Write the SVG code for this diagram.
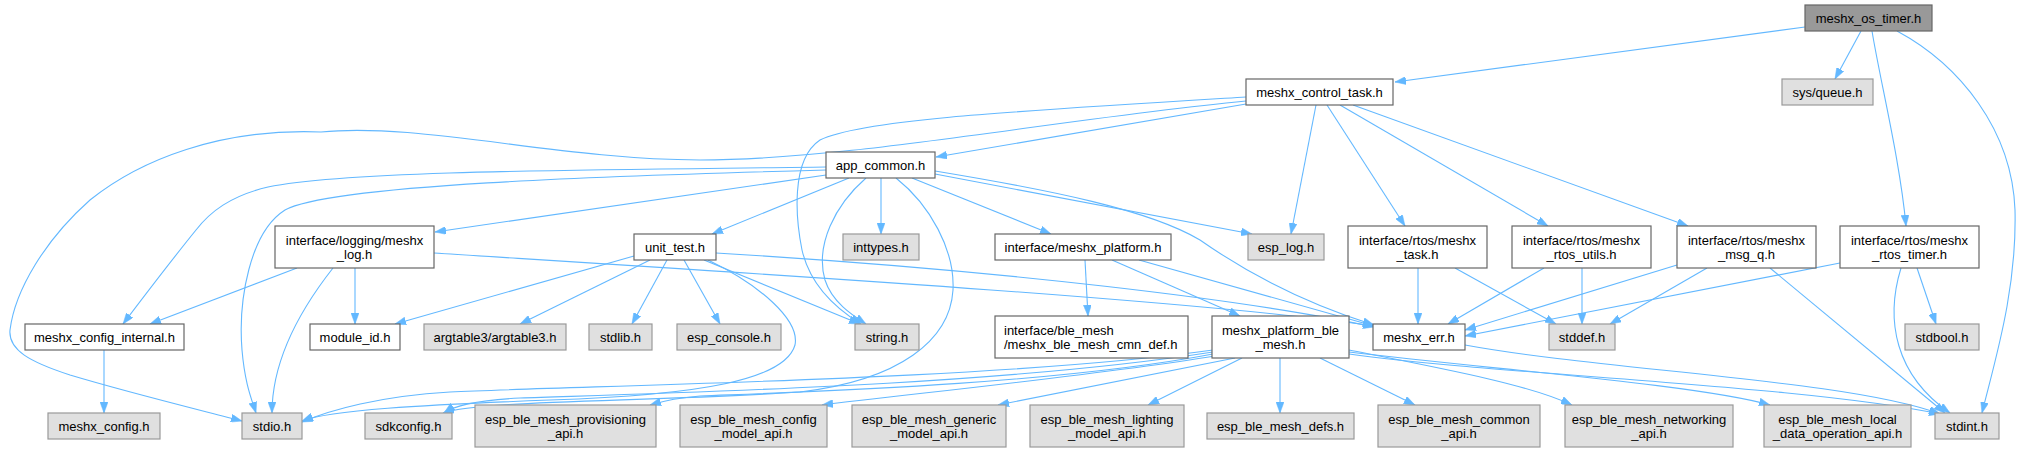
<svg xmlns="http://www.w3.org/2000/svg" width="2022" height="450" viewBox="0 0 2022 450">
<defs>
<marker id="a" markerWidth="11" markerHeight="8" refX="11" refY="4" orient="auto" markerUnits="userSpaceOnUse"><path d="M0,0 L11,4 L0,8 z" fill="#63b8ff" stroke="#63b8ff" stroke-width="0.5"/></marker>
<style>
.e path{fill:none;stroke:#63b8ff;stroke-width:1.1;marker-end:url(#a)}
.n rect{fill:#ffffff;stroke:#666666;stroke-width:1.2}
.g rect{fill:#e0e0e0;stroke:#999999;stroke-width:1.2}
.r rect{fill:#999999;stroke:#666666;stroke-width:1.2}
text{font-family:"Liberation Sans",Arial,Helvetica,sans-serif;font-size:13px;fill:#000000;text-anchor:middle}
text.l{text-anchor:start}
</style>
</defs>
<rect width="2022" height="450" fill="#ffffff"/>
<g class="e" id="edges">
<path d="M1805,27 L1395,82"/>
<path d="M1861,31 L1835,79"/>
<path d="M1872,31 C1880,80 1900,160 1906,226"/>
<path d="M1897,31 C1960,65 2012,130 2015,210 C2017,290 1995,360 1982,413"/>
<path d="M1246,101 C1050,120 850,160 700,160 C560,160 420,122 321,132 C220,128 140,160 90,200 C45,240 15,290 10,330 C8,350 30,362 70,375 C130,393 200,410 242,421"/>
<path d="M1246,97 C1000,112 860,120 820,140 C790,160 796,220 802,250 C810,285 835,308 861,324"/>
<path d="M1246,104 L936,157"/>
<path d="M1316,105 L1291,234"/>
<path d="M1327,105 L1405,226"/>
<path d="M1340,105 L1548,226"/>
<path d="M1353,105 L1688,226"/>
<path d="M826,167 C600,170 350,170 268,187 C230,196 210,212 196,230 C170,262 145,295 123,324"/>
<path d="M826,170 C600,176 330,185 285,210 C250,232 238,300 242,350 C245,385 252,400 256,413"/>
<path d="M826,175 L435,232"/>
<path d="M849,178 L712,234"/>
<path d="M866,178 C835,205 815,245 825,280 C832,302 852,315 866,324"/>
<path d="M881,178 L881,234"/>
<path d="M896,178 C930,205 955,250 953,290 C950,340 900,380 800,392 C650,402 480,400 443,413"/>
<path d="M912,178 L1051,234"/>
<path d="M935,174 L1252,234"/>
<path d="M935,171 C1050,190 1150,210 1200,240 C1250,275 1310,305 1374,325"/>
<path d="M297,268 L150,324"/>
<path d="M333,268 C300,310 272,360 272,413"/>
<path d="M355,268 L355,324"/>
<path d="M434,253 C700,270 1200,300 1374,326"/>
<path d="M634,256 L395,324"/>
<path d="M650,260 L520,324"/>
<path d="M667,260 L632,324"/>
<path d="M684,260 L720,324"/>
<path d="M704,260 L860,324"/>
<path d="M716,253 C1000,270 1250,300 1374,327"/>
<path d="M708,260 C760,285 800,320 795,345 C785,380 700,395 550,400 C420,405 330,410 302,421"/>
<path d="M1085,260 L1088,316"/>
<path d="M1112,260 L1240,316"/>
<path d="M1139,260 L1374,326"/>
<path d="M1418,268 L1418,324"/>
<path d="M1455,268 L1556,324"/>
<path d="M1544,268 L1448,324"/>
<path d="M1582,268 L1582,324"/>
<path d="M1677,265 L1465,330"/>
<path d="M1707,268 L1610,324"/>
<path d="M1770,268 L1945,413"/>
<path d="M1840,263 L1465,336"/>
<path d="M1917,268 L1936,324"/>
<path d="M1901,268 C1885,320 1895,375 1950,413"/>
<path d="M104,350 L104,413"/>
<path d="M1213,350 C1000,380 600,385 450,392 C380,396 330,410 302,422"/>
<path d="M1213,352 C1000,385 700,392 520,398 C480,400 455,405 444,413"/>
<path d="M1213,354 C1050,385 800,392 700,396 C675,398 660,402 650,405"/>
<path d="M1215,356 C1100,375 900,395 822,405"/>
<path d="M1235,358 L998,405"/>
<path d="M1242,358 L1148,405"/>
<path d="M1280,358 L1280,413"/>
<path d="M1320,358 L1415,405"/>
<path d="M1349,350 C1450,370 1530,385 1572,405"/>
<path d="M1349,352 C1500,370 1700,385 1770,405"/>
<path d="M1349,354 C1500,375 1800,385 1940,414"/>
<path d="M1465,345 C1600,370 1850,380 1940,414"/>
</g>
<g id="meshx_os_timer" class="r"><rect x="1805" y="5" width="127" height="26"/><text x="1868.5" y="23">meshx_os_timer.h</text></g>
<g id="meshx_control_task" class="n"><rect x="1246" y="79" width="147" height="26"/><text x="1319.5" y="97">meshx_control_task.h</text></g>
<g id="sys_queue" class="g"><rect x="1782" y="79" width="91" height="26"/><text x="1827.5" y="97">sys/queue.h</text></g>
<g id="app_common" class="n"><rect x="826" y="152" width="109" height="26"/><text x="880.5" y="170">app_common.h</text></g>
<g id="meshx_log" class="n"><rect x="275" y="226" width="159" height="42"/><text x="354.5" y="244.5">interface/logging/meshx</text><text x="354.5" y="259">_log.h</text></g>
<g id="unit_test" class="n"><rect x="634" y="234" width="82" height="26"/><text x="675" y="252">unit_test.h</text></g>
<g id="inttypes" class="g"><rect x="843" y="234" width="76" height="26"/><text x="881" y="252">inttypes.h</text></g>
<g id="meshx_platform" class="n"><rect x="995" y="234" width="176" height="26"/><text x="1083" y="252">interface/meshx_platform.h</text></g>
<g id="esp_log" class="g"><rect x="1248" y="234" width="76" height="26"/><text x="1286" y="252">esp_log.h</text></g>
<g id="meshx_task" class="n"><rect x="1348" y="226" width="139" height="42"/><text x="1417.5" y="244.5">interface/rtos/meshx</text><text x="1417.5" y="259">_task.h</text></g>
<g id="meshx_rtos_utils" class="n"><rect x="1512" y="226" width="139" height="42"/><text x="1581.5" y="244.5">interface/rtos/meshx</text><text x="1581.5" y="259">_rtos_utils.h</text></g>
<g id="meshx_msg_q" class="n"><rect x="1677" y="226" width="139" height="42"/><text x="1746.5" y="244.5">interface/rtos/meshx</text><text x="1746.5" y="259">_msg_q.h</text></g>
<g id="meshx_rtos_timer" class="n"><rect x="1840" y="226" width="139" height="42"/><text x="1909.5" y="244.5">interface/rtos/meshx</text><text x="1909.5" y="259">_rtos_timer.h</text></g>
<g id="meshx_config_internal" class="n"><rect x="25" y="324" width="159" height="26"/><text x="104.5" y="342">meshx_config_internal.h</text></g>
<g id="module_id" class="n"><rect x="310" y="324" width="90" height="26"/><text x="355" y="342">module_id.h</text></g>
<g id="argtable3" class="g"><rect x="424" y="324" width="142" height="26"/><text x="495" y="342">argtable3/argtable3.h</text></g>
<g id="stdlib" class="g"><rect x="589" y="324" width="63" height="26"/><text x="620.5" y="342">stdlib.h</text></g>
<g id="esp_console" class="g"><rect x="677" y="324" width="104" height="26"/><text x="729" y="342">esp_console.h</text></g>
<g id="string" class="g"><rect x="855" y="324" width="64" height="26"/><text x="887" y="342">string.h</text></g>
<g id="cmn_def" class="n"><rect x="995" y="316" width="193" height="42"/><text class="l" x="1004" y="334.5">interface/ble_mesh</text><text class="l" x="1004" y="349">/meshx_ble_mesh_cmn_def.h</text></g>
<g id="meshx_platform_ble_mesh" class="n"><rect x="1212" y="316" width="137" height="42"/><text x="1280.5" y="334.5">meshx_platform_ble</text><text x="1280.5" y="349">_mesh.h</text></g>
<g id="meshx_err" class="n"><rect x="1373" y="324" width="92" height="26"/><text x="1419" y="342">meshx_err.h</text></g>
<g id="stddef" class="g"><rect x="1549" y="324" width="66" height="26"/><text x="1582" y="342">stddef.h</text></g>
<g id="stdbool" class="g"><rect x="1905" y="324" width="74" height="26"/><text x="1942" y="342">stdbool.h</text></g>
<g id="meshx_config" class="g"><rect x="48" y="413" width="112" height="26"/><text x="104" y="431">meshx_config.h</text></g>
<g id="stdio" class="g"><rect x="242" y="413" width="60" height="26"/><text x="272" y="431">stdio.h</text></g>
<g id="sdkconfig" class="g"><rect x="365" y="413" width="87" height="26"/><text x="408.5" y="431">sdkconfig.h</text></g>
<g id="provisioning_api" class="g"><rect x="475" y="405" width="181" height="42"/><text x="565.5" y="423.5">esp_ble_mesh_provisioning</text><text x="565.5" y="438">_api.h</text></g>
<g id="config_model_api" class="g"><rect x="680" y="405" width="147" height="42"/><text x="753.5" y="423.5">esp_ble_mesh_config</text><text x="753.5" y="438">_model_api.h</text></g>
<g id="generic_model_api" class="g"><rect x="852" y="405" width="154" height="42"/><text x="929" y="423.5">esp_ble_mesh_generic</text><text x="929" y="438">_model_api.h</text></g>
<g id="lighting_model_api" class="g"><rect x="1030" y="405" width="154" height="42"/><text x="1107" y="423.5">esp_ble_mesh_lighting</text><text x="1107" y="438">_model_api.h</text></g>
<g id="defs_h" class="g"><rect x="1207" y="413" width="147" height="26"/><text x="1280.5" y="431">esp_ble_mesh_defs.h</text></g>
<g id="common_api" class="g"><rect x="1378" y="405" width="162" height="42"/><text x="1459" y="423.5">esp_ble_mesh_common</text><text x="1459" y="438">_api.h</text></g>
<g id="networking_api" class="g"><rect x="1565" y="405" width="168" height="42"/><text x="1649" y="423.5">esp_ble_mesh_networking</text><text x="1649" y="438">_api.h</text></g>
<g id="local_data_api" class="g"><rect x="1764" y="405" width="147" height="42"/><text x="1837.5" y="423.5">esp_ble_mesh_local</text><text x="1837.5" y="438">_data_operation_api.h</text></g>
<g id="stdint" class="g"><rect x="1935" y="413" width="64" height="26"/><text x="1967" y="431">stdint.h</text></g>
</svg>
